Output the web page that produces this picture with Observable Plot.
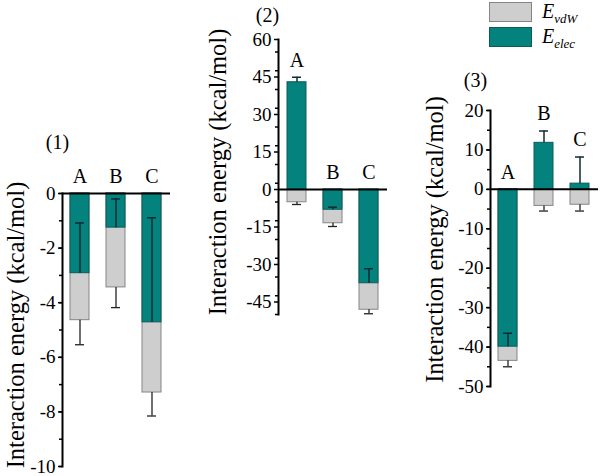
<!DOCTYPE html>
<html><head><meta charset="utf-8">
<script src="https://cdn.jsdelivr.net/npm/d3@7"></script>
<script src="https://cdn.jsdelivr.net/npm/@observablehq/plot@0.6"></script>
<style>
body{margin:0;background:#fff;}
#chart{position:relative;width:600px;height:476px;overflow:hidden;font-family:"Liberation Serif","Times New Roman","DejaVu Serif",serif;background:#fff;}
#chart > svg{position:absolute;left:0;top:0;}
#chart svg text{font-family:"Liberation Serif","Times New Roman","DejaVu Serif",serif !important;}
.lbox{position:absolute;left:489px;width:43px;height:20px;box-sizing:border-box;border:1px solid;}
.ltxt{position:absolute;left:542px;font-style:italic;font-size:20px;line-height:20px;white-space:nowrap;color:#000;}
.ltxt sub{font-size:13px;vertical-align:-5px;line-height:0;}
</style></head><body><div id="chart"></div>
<script>
// ---- data ----
const categories = ["A", "B", "C"];
const seriesNames = ["E_vdW", "E_elec"];
const fillColors = ["#cecece", "#03827e"];
const strokeColors = ["#858585", "#0a5c59"];
const panelTitles = ["(1)", "(2)", "(3)"];
const yTitle = "Interaction energy (kcal/mol)";

// panel (1)
const p1Vdw     = [-4.64, -3.44, -7.29];
const p1VdwErr  = [0.90, 0.74, 0.86];
const p1Elec    = [-2.92, -1.25, -4.72];
const p1ElecErr = [1.84, 1.05, 3.83];
const p1Ticks   = [0, -2, -4, -6, -8, -10];
// panel (2)
const p2Vdw     = [-5.1, -13.5, -48.1];
const p2VdwErr  = [0.9, 1.3, 1.6];
const p2Elec    = [42.9, -8.1, -37.5];
const p2ElecErr = [2.0, 1.0, 5.8];
const p2Ticks   = [60, 45, 30, 15, 0, -15, -30, -45];
// panel (3)
const p3Vdw     = [-43.5, -4.2, -3.9];
const p3VdwErr  = [1.5, 1.3, 1.6];
const p3Elec    = [-39.9, 11.8, 1.45];
const p3ElecErr = [3.4, 3.0, 6.75];
const p3Ticks   = [20, 10, 0, -10, -20, -30, -40, -50];

const FONT = "'Liberation Serif', 'Times New Roman', 'DejaVu Serif', serif";
const W = 600, H = 476;
const panels = [
  {title: panelTitles[0], vdw: p1Vdw, vdwErr: p1VdwErr, elec: p1Elec, elecErr: p1ElecErr,
   domain: [-10, 0], ticks: p1Ticks, minorStep: 1,
   m: {left: 62, right: 430, top: 193, bottom: 10},
   titlePos: {dx: -5, dy: -51}, yTitle: {dx: -46, dy: -5}},
  {title: panelTitles[1], vdw: p2Vdw, vdwErr: p2VdwErr, elec: p2Elec, elecErr: p2ElecErr,
   domain: [-50, 60], ticks: p2Ticks, minorStep: 7.5,
   m: {left: 278, right: 213, top: 39, bottom: 162},
   titlePos: {dx: -11, dy: -24}, yTitle: {dx: -60, dy: -5}},
  {title: panelTitles[2], vdw: p3Vdw, vdwErr: p3VdwErr, elec: p3Elec, elecErr: p3ElecErr,
   domain: [-50, 20], ticks: p3Ticks, minorStep: 5,
   m: {left: 490, right: 2, top: 110, bottom: 90},
   titlePos: {dx: -15, dy: -30}, yTitle: {dx: -55, dy: -9}}
];

const chart = document.getElementById("chart");

for (const p of panels) {
  const rows = categories.map((c, i) => ({
    cat: c, vdw: p.vdw[i], vdwLo: p.vdw[i] - p.vdwErr[i],
    elec: p.elec[i], elecHi: p.elec[i] + p.elecErr[i],
    top: Math.max(0, p.elec[i] + p.elecErr[i])
  }));
  const minor = d3.range(p.domain[0], p.domain[1] + 1e-9, p.minorStep);
  const svg = Plot.plot({
    width: W, height: H,
    marginLeft: p.m.left, marginRight: p.m.right, marginTop: p.m.top, marginBottom: p.m.bottom,
    style: `font-family: ${FONT}; font-size: 19px; color: #000; background: transparent; overflow: visible;`,
    x: {domain: categories, paddingInner: 0.47, paddingOuter: 0.235, axis: null},
    y: {domain: p.domain, axis: null},
    marks: [
      Plot.axisY({ticks: minor, tickSize: 3, tickFormat: () => "", strokeWidth: 1.5}),
      Plot.axisY({ticks: p.ticks, tickSize: 4, tickPadding: 3, strokeWidth: 1.5, fontSize: 19,
                  fontFamily: FONT, fill: "#000", tickFormat: d => String(d)}),
      Plot.barY(rows, {x: "cat", y1: 0, y2: "vdw", fill: fillColors[0], stroke: strokeColors[0], strokeWidth: 1}),
      Plot.ruleX(rows, {x: "cat", y1: "vdw", y2: "vdwLo", stroke: "#222", strokeWidth: 1.3}),
      Plot.tickY(rows, {x: "cat", y: "vdwLo", stroke: "#222", strokeWidth: 1.3, insetLeft: 5, insetRight: 5}),
      Plot.barY(rows, {x: "cat", y1: 0, y2: "elec", fill: fillColors[1], stroke: strokeColors[1], strokeWidth: 1}),
      Plot.ruleX(rows, {x: "cat", y1: "elec", y2: "elecHi", stroke: "#0d2b33", strokeWidth: 1.5}),
      Plot.tickY(rows, {x: "cat", y: "elecHi", stroke: "#0d2b33", strokeWidth: 1.5, insetLeft: 5, insetRight: 5}),
      Plot.ruleY([0], {stroke: "#000", strokeWidth: 2}),
      Plot.frame({anchor: "left", stroke: "#000", strokeWidth: 2}),
      Plot.text(rows, {x: "cat", y: "top", text: "cat", dy: -17, fontSize: 20, fontFamily: FONT, fill: "#000"}),
      Plot.text([p.title], {frameAnchor: "top-left", dx: p.titlePos.dx, dy: p.titlePos.dy, text: d => d,
                            textAnchor: "middle", lineAnchor: "middle", fontSize: 20, fontFamily: FONT, fill: "#000"}),
      Plot.text([yTitle], {frameAnchor: "left", dx: p.yTitle.dx, dy: p.yTitle.dy, rotate: -90, text: d => d,
                           textAnchor: "middle", lineAnchor: "middle", fontSize: 24.5, fontFamily: FONT, fill: "#000"})
    ]
  });
  chart.appendChild(svg);
}

// legend (HTML, above the panels)
const legendTops = [2, 27];
const legendLabels = [["E", "vdW"], ["E", "elec"]];
seriesNames.forEach((s, i) => {
  const box = document.createElement("div");
  box.className = "lbox";
  box.style.top = legendTops[i] + "px";
  box.style.background = fillColors[i];
  box.style.borderColor = strokeColors[i];
  chart.appendChild(box);
  const t = document.createElement("div");
  t.className = "ltxt";
  t.style.top = (legendTops[i] - 1) + "px";
  t.innerHTML = legendLabels[i][0] + "<sub>" + legendLabels[i][1] + "</sub>";
  chart.appendChild(t);
});
</script></body></html>
